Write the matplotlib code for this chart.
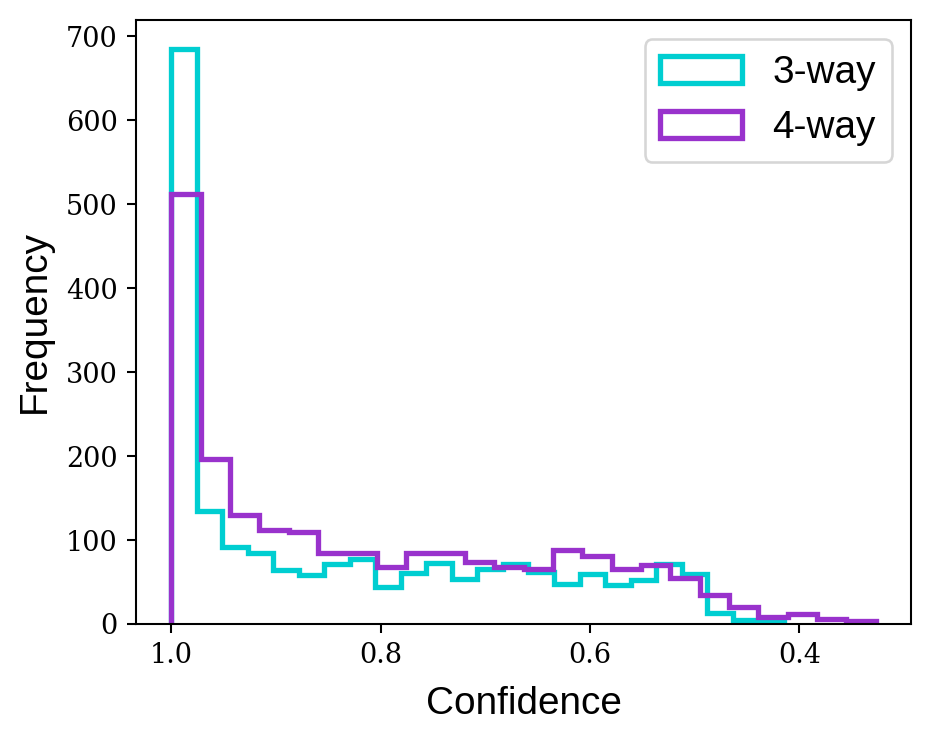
import numpy as np
import matplotlib
matplotlib.use("Agg")
import matplotlib.pyplot as plt

# Histogram counts, ordered from highest confidence (1.0) downwards
labels = ["3-way", "4-way"]
colors = ["#00CED1", "#9932CC"]
conf_max = 1.0
conf_min = [0.415, 0.327]
n_bins = 24
counts_3way = [685, 134, 92, 85, 64, 58, 72, 77, 44, 61, 73, 54,
               66, 72, 62, 48, 60, 47, 52, 71, 60, 13, 5, 4]
counts_4way = [512, 197, 130, 112, 109, 84, 85, 68, 85, 84, 74, 68,
               66, 88, 81, 65, 70, 55, 35, 20, 8, 12, 6, 3]
yticks = [0, 100, 200, 300, 400, 500, 600, 700]
xticks = [1.0, 0.8, 0.6, 0.4]

DPI = 186.2
fig = plt.figure(figsize=(931 / DPI, 741 / DPI), dpi=DPI)
ax = fig.add_axes([136/931, 1 - 624/741, (911 - 136)/931, (624 - 20)/741])

serif = "DejaVu Serif"
sans = "Liberation Sans"

for counts, lo, col, lab in zip([counts_3way, counts_4way], conf_min, colors, labels):
    edges = np.linspace(conf_max, lo, n_bins + 1)
    centers = (edges[:-1] + edges[1:]) / 2
    ax.hist(centers, bins=edges[::-1], weights=counts, histtype="step",
            lw=2.05, color=col, label=lab)

ax.invert_xaxis()
ax.set_yticks(yticks)
ax.set_xticks(xticks)
ax.set_xticklabels([f"{v:.1f}" for v in xticks], fontfamily=serif, fontsize=10.5)
ax.set_yticklabels([str(v) for v in yticks], fontfamily=serif, fontsize=10.5)

ax.set_xlabel("Confidence", fontfamily=sans, fontsize=15, labelpad=6.5)
ax.set_ylabel("Frequency", fontfamily=sans, fontsize=15, labelpad=5)

leg = ax.legend(loc="upper right", prop={"family": sans, "size": 15},
                handlelength=2.1)

fig.savefig("out.png", dpi=DPI)
